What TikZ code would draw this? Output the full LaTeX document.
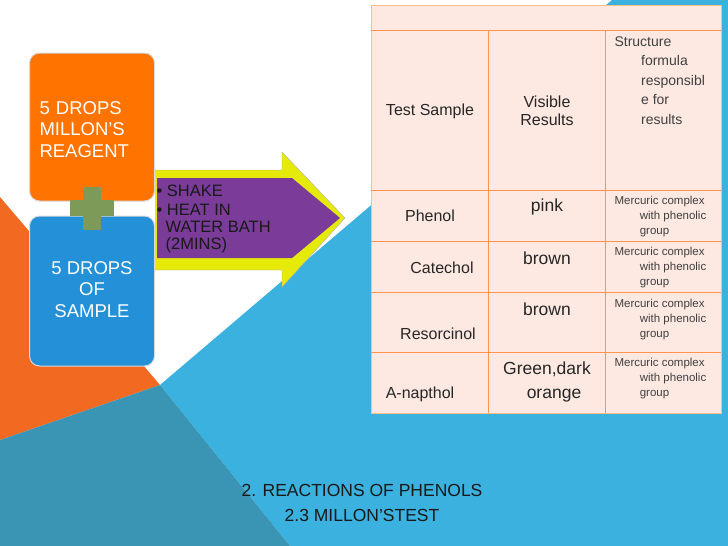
\documentclass[tikz,border=0pt]{standalone}
\usepackage{fontspec}
\setmainfont{Liberation Sans}
\begin{document}
\begin{tikzpicture}[x=1pt,y=-1pt,
  box/.style={rounded corners=10pt,draw=white!70!gray,line width=1pt,text=white,font=\fontsize{18.5}{21.5}\selectfont},
  cell/.style={font=\fontsize{16}{18}\selectfont,text=black!85},
  small/.style={font=\fontsize{11.5}{15}\selectfont,text=black!75,align=left,anchor=north west},
  tl/.style={draw=orange!80!red!70,line width=0.8pt}]
\definecolor{bgor}{HTML}{F26A21}
\definecolor{bgbl}{HTML}{3BB1DF}
\definecolor{bgdk}{HTML}{3A95B5}
\definecolor{cellf}{HTML}{FDE9E1}
\definecolor{purp}{HTML}{7A3C98}
\definecolor{plus}{HTML}{7E9A58}
\useasboundingbox (0,0) rectangle (728,546);
\fill[white] (0,0) rectangle (728,546);
\fill[bgor] (0,197) -- (160,385) -- (0,440) -- cycle;
\fill[bgbl] (612,0) -- (728,0) -- (728,546) -- (290,546) -- (160,385) -- cycle;
\fill[bgdk] (0,440) -- (160,385) -- (290,546) -- (0,546) -- cycle;
% table
\fill[cellf] (371,5) rectangle (721,413);
\draw[tl,draw=orange!50] (371,5) rectangle (721,413);
\foreach \y in {30,190,241,292,352} \draw[tl] (371,\y) -- (721,\y);
\draw[tl] (488,30) -- (488,413);
\draw[tl] (605,30) -- (605,413);
\node[cell] (h1) at (430,111) {Test Sample};
\node[cell,align=center] (h2) at (547,111) {Visible\\Results};
\node[small,font=\fontsize{14}{19.5}\selectfont] (h3) at (611,33) {Structure\\\hspace*{1.9em}formula\\\hspace*{1.9em}responsibl\\\hspace*{1.9em}e for\\\hspace*{1.9em}results};
\node[cell] (r1) at (430,216) {Phenol};
\node[cell] (r2) at (442,268) {Catechol};
\node[cell] (r3) at (438,334) {Resorcinol};
\node[cell] (r4) at (420,394) {A-napthol};
\node[cell,font=\fontsize{17.5}{18}\selectfont] (v1) at (547,207) {pink};
\node[cell,font=\fontsize{17.5}{18}\selectfont] (v2) at (547,258) {brown};
\node[cell,font=\fontsize{17.5}{18}\selectfont] (v3) at (547,309) {brown};
\node[cell,font=\fontsize{17.5}{24}\selectfont,align=center] (v4) at (547,382) {Green,dark\\\hspace*{0.8em}orange};
\foreach \y/\n in {193/m1,244/m2,296/m3,355/m4}
  \node[small] (\n) at (611,\y) {Mercuric complex\\\hspace*{2.2em}with phenolic\\\hspace*{2.2em}group};
% arrow
\fill[yellow!90!green] (155,170) -- (282,170) -- (282,152) -- (345,218) -- (282,287) -- (282,270) -- (155,270) -- cycle;
\draw[gray!60] (155,170) -- (282,170) -- (282,152) -- (345,218) -- (282,287) -- (282,270) -- (155,270);
\fill[purp] (157,178) -- (292,178) -- (340,218) -- (292,258) -- (157,258) -- cycle;
\node[anchor=north west,align=left,font=\fontsize{16.5}{17}\selectfont,text=black!90] (steps) at (153,181) {\textbullet\ SHAKE\\[2pt]\textbullet\ HEAT IN\\\hspace*{0.55em}WATER BATH\\\hspace*{0.55em}(2MINS)};
% boxes
\node[box,fill=orange!90!red,minimum width=125pt,minimum height=148pt,text width=105pt,align=left] (a) at (92,127) {\\[-4pt]5 DROPS\\MILLON'S\\REAGENT};
\node[box,fill=cyan!70!blue!90,minimum width=125pt,minimum height=150pt,align=center] (b) at (92,291) {\\[-12pt]5 DROPS\\OF\\SAMPLE};
\fill[plus] (83,187) rectangle (101,230);
\fill[plus] (70,200) rectangle (114,216);
% title
\node[font=\fontsize{17.5}{25}\selectfont,text=black!90,align=center] (t) at (362,503) {2. REACTIONS OF PHENOLS\\2.3 MILLON'STEST};
\end{tikzpicture}
\end{document}
